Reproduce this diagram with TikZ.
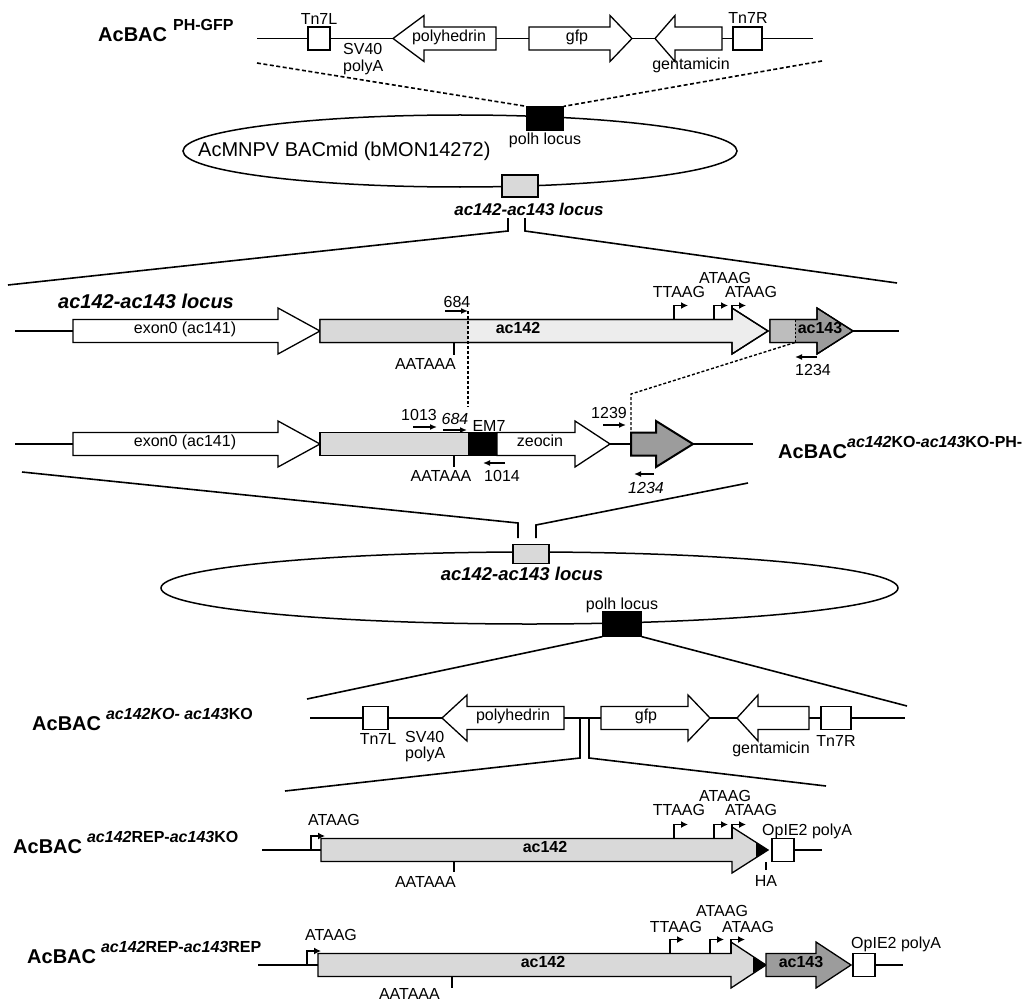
\documentclass[tikz,border=0pt]{standalone}
\usepackage{fontspec}
\setmainfont{Liberation Sans}
\usetikzlibrary{arrows.meta,shapes.geometric}

\definecolor{ac142fill}{HTML}{D9D9D9}
\definecolor{ac142pale}{HTML}{EDEDED}
\definecolor{ac143fill}{HTML}{9C9C9C}
\definecolor{ac143pale}{HTML}{BDBDBD}

\newcommand{\genearrow}[5][gene]{\draw[#1] (#2,#5-11.5) -- (#3,#5-11.5) -- (#3,#5-23) -- (#4,#5) -- (#3,#5+23) -- (#3,#5+11.5) -- (#2,#5+11.5) -- cycle;}
\newcommand{\tssmark}[2]{\draw[tss] (#1,#2) |- ++(14,-14);}
\newcommand{\acbac}[1]{{\fontsize{20}{24}\selectfont\bfseries AcBAC}\raisebox{11pt}{\fontsize{16}{19}\selectfont\bfseries #1}}

\tikzset{
  dna/.style={line width=1.4pt},
  zoomline/.style={line width=1.6pt},
  cutline/.style={line width=1.6pt,dashed,dash pattern=on 4pt off 2.5pt},
  gene/.style={draw,line width=1.3pt,fill=white,line join=miter},
  boxpart/.style={draw,line width=1.3pt,fill=white,inner sep=0pt,minimum width=#1,minimum height=23pt},
  boxpart/.default=22pt,
  txt/.style={font=\fontsize{16}{19}\selectfont,inner sep=0pt},
  gname/.style={font=\fontsize{16}{19}\selectfont\bfseries,inner sep=0pt},
  locuslbl/.style={font=\fontsize{17}{20}\selectfont\bfseries\itshape,inner sep=0pt},
  bac/.style={inner sep=0pt},
  tss/.style={line width=1.5pt,-{Latex[length=7pt,width=7pt]}},
  primer/.style={line width=2.4pt,-{Latex[length=7pt,width=6pt]}},
}

\begin{document}
\begin{tikzpicture}[x=1pt,y=-1pt]
\useasboundingbox (0,0) rectangle (1032,1003);

% AcBAC PH-GFP
\node[bac,anchor=base west] (phgfp) at (98,42) {\acbac{\hspace{6pt}PH-GFP}};
\draw[dna] (257,38.5) -- (813,38.5);
\node[boxpart] (tnlA) at (319,38.5) {};
\node[txt,anchor=base] (tnlAl) at (319,25) {Tn7L};
\node[txt,anchor=base west] (svA) at (343,55) {SV40};
\node[txt,anchor=base west] (pAA) at (343,72) {polyA};
\genearrow{496}{424}{393}{38.5}
\node[txt,anchor=mid] (polyhA) at (449,38.5) {polyhedrin};
\genearrow{529}{610}{632}{38.5}
\node[txt,anchor=mid] (gfpA) at (577,38.5) {gfp};
\genearrow{722}{675}{655}{38.5}
\node[txt,anchor=base] (gentA) at (691,70) {gentamicin};
\node[boxpart=29pt] (tnrA) at (747.5,38.5) {};
\node[txt,anchor=base] (tnrAl) at (748,24) {Tn7R};

% BACmid
\node[draw,ellipse,line width=1.5pt,minimum width=554pt,minimum height=72pt,inner sep=0pt] (bacA) at (460,151) {};
\node[anchor=base west,font=\fontsize{20}{24}\selectfont,inner sep=0pt] (bacAl) at (198,157) {AcMNPV BACmid (bMON14272)};
\node[boxpart=36pt,fill=black] (polhA) at (545,118.5) {};
\node[txt,anchor=base] (polhAl) at (545,145) {polh locus};
\node[boxpart=36pt,minimum height=22pt,fill=ac142fill] (locA) at (520,186) {};
\node[locuslbl,anchor=base] (locAl) at (529,215) {ac142-ac143 locus};
\draw[cutline] (257,63) -- (polhA.north west);
\draw[cutline] (822,61) -- (polhA.north east);

\coordinate (zlA) at (8,285);
\coordinate (zrA) at (897,283);
\draw[zoomline] (508,218) -- (508,231) -- (zlA);
\draw[zoomline] (525,218) -- (525,231) -- (zrA);

% ac142-ac143 locus
\node[locuslbl,font=\fontsize{20}{23}\selectfont\bfseries\itshape,anchor=base west] (locB) at (58,308) {ac142-ac143 locus};
\draw[dna] (15,331) -- (73,331);
\draw[dna] (853,331) -- (899,331);
\genearrow{73}{278}{320}{331}
\node[txt,anchor=mid] (exonA) at (185,331) {exon0 (ac141)};
\genearrow[gene,fill=ac142pale]{320}{732}{768}{331}
\fill[ac142fill] (320,319.5) rectangle (468,342.5);
\genearrow[gene,fill=none]{320}{732}{768}{331}
\node[gname,anchor=mid] (ac142A) at (518,331) {ac142};
\genearrow[gene,fill=ac143fill]{770}{817}{853}{331}
\fill[ac143pale] (770,319.5) rectangle (795,342.5);
\genearrow[gene,fill=none]{770}{817}{853}{331}
\draw[line width=1pt,dashed,dash pattern=on 2.5pt off 1.5pt] (795,319.5) -- (795,342.5);
\node[gname,anchor=mid] (ac143A) at (820,331) {ac143};
\tssmark{674}{319.5}
\tssmark{714}{319.5}
\tssmark{732}{319.5}
\node[txt,anchor=base] (ttA) at (679,297) {TTAAG};
\node[txt,anchor=base] (atA) at (725,283) {ATAAG};
\node[txt,anchor=base] (atB) at (751,297) {ATAAG};
\draw[primer] (445,311) -- (468,311);
\node[txt,anchor=base] (p684A) at (457,307) {684};
\draw[line width=1.4pt] (454,342.5) -- (454,355);
\node[txt,anchor=base east] (aatA) at (456,369) {AATAAA};
\draw[primer] (817,357) -- (795,357);
\node[txt,anchor=base west] (p1234A) at (795,375) {1234};

\draw[line width=1.4pt,dashed,dash pattern=on 3pt off 2pt] (468,311) -- (468,407);
\draw[line width=1.4pt,dashed,dash pattern=on 3pt off 2pt] (795,342.5) -- (631,394) -- (631,432.5);

% knockout locus
\draw[dna] (15,444) -- (73,444);
\draw[dna] (610,444) -- (631,444);
\draw[dna] (693,444) -- (753,444);
\genearrow{73}{278}{320}{444}
\node[txt,anchor=mid] (exonB) at (185,444) {exon0 (ac141)};
\draw[gene,fill=ac142fill] (320,432.5) rectangle (469,455.5);
\draw[gene,fill=black] (469,432.5) rectangle (497,455.5);
\genearrow{497}{575}{610}{444}
\node[txt,anchor=mid] (zeo) at (540,444) {zeocin};
\genearrow[gene,fill=ac143fill,line width=2pt]{631}{656}{693}{444}
\draw[primer] (413,427) -- (437,427);
\node[txt,anchor=base] (p1013) at (419,420) {1013};
\draw[primer] (443,430) -- (467,430);
\node[txt,anchor=base,font=\fontsize{16}{19}\selectfont\itshape] (p684B) at (455,424) {684};
\node[txt,anchor=base] (em7) at (489,431) {EM7};
\draw[primer] (603,425) -- (626,425);
\node[txt,anchor=base] (p1239) at (609,418) {1239};
\draw[line width=1.4pt] (454,455.5) -- (454,467);
\node[txt,anchor=base] (aatB) at (441,481) {AATAAA};
\draw[primer] (505,463) -- (483,463);
\node[txt,anchor=base west] (p1014) at (484,481) {1014};
\draw[primer] (654,474) -- (634,474);
\node[txt,anchor=base,font=\fontsize{16}{19}\selectfont\itshape] (p1234B) at (646,493) {1234};
\node[bac,anchor=base west] (kophgfp) at (778,458) {\acbac{\textit{ac142}KO-\textit{ac143}KO-PH-}};

\coordinate (zlB) at (22,472);
\coordinate (zrB) at (748,483);
\draw[zoomline] (zlB) -- (518,523) -- (518,538);
\draw[zoomline] (zrB) -- (536,525) -- (536,538);

% knockout BACmid
\node[draw,ellipse,line width=1.5pt,minimum width=737pt,minimum height=72pt,inner sep=0pt] (bacB) at (529.5,588) {};
\node[boxpart=36pt,minimum height=19pt,fill=ac142fill] (locC) at (531,554) {};
\node[locuslbl,font=\fontsize{18.5}{22}\selectfont\bfseries\itshape,anchor=base] (locCl) at (522,580) {ac142-ac143 locus};
\node[txt,anchor=base] (polhBl) at (622,609) {polh locus};
\node[boxpart=38pt,minimum height=24pt,fill=black] (polhB) at (622,624) {};

\coordinate (zlC) at (307,699);
\coordinate (zrC) at (907,706);
\draw[zoomline] (polhB.south west) -- (zlC);
\draw[zoomline] (polhB.south east) -- (zrC);

% AcBAC ac142KO-ac143KO
\node[bac,anchor=base west] (ko) at (32,730) {\acbac{\hspace{5pt}\textit{ac142KO- ac143}KO}};
\draw[dna] (310,718) -- (905,718);
\node[boxpart=25pt] (tnlB) at (375.5,718) {};
\node[txt,anchor=base] (tnlBl) at (378,744) {Tn7L};
\node[txt,anchor=base west] (svB) at (405,742) {SV40};
\node[txt,anchor=base west] (pAB) at (405,758) {polyA};
\genearrow{564}{467}{442}{718}
\node[txt,anchor=mid] (polyhB) at (513,718) {polyhedrin};
\genearrow{601}{688}{710}{718}
\node[txt,anchor=mid] (gfpB) at (646,718) {gfp};
\genearrow{809}{758}{737}{718}
\node[txt,anchor=base] (gentB) at (771,753) {gentamicin};
\node[boxpart=30pt] (tnrB) at (836,718) {};
\node[txt,anchor=base] (tnrBl) at (836,746) {Tn7R};

\coordinate (zlD) at (285,791);
\coordinate (zrD) at (826,786);
\draw[zoomline] (580,718) -- (580,758) -- (zlD);
\draw[zoomline] (589,718) -- (589,758) -- (zrD);

% AcBAC ac142REP-ac143KO
\node[bac,anchor=base west] (repko) at (13,853) {\acbac{\hspace{5pt}\textit{ac142}REP-\textit{ac143}KO}};
\draw[dna] (262,850) -- (321,850);
\draw[dna] (794,850) -- (822,850);
\tssmark{311}{850}
\node[txt,anchor=base] (atC) at (334,825) {ATAAG};
\genearrow[gene,fill=ac142fill]{321}{732}{768}{850}
\fill (756,842) -- (768,850) -- (756,858) -- cycle;
\node[gname,anchor=mid] (ac142C) at (545,850) {ac142};
\tssmark{674}{838.5}
\tssmark{714}{838.5}
\tssmark{732}{838.5}
\node[txt,anchor=base] (ttC) at (679,815) {TTAAG};
\node[txt,anchor=base] (atD) at (725,801) {ATAAG};
\node[txt,anchor=base] (atE) at (751,815) {ATAAG};
\draw[line width=1.4pt] (454,861.5) -- (454,872);
\node[txt,anchor=base east] (aatC) at (456,887) {AATAAA};
\draw[line width=1.2pt] (766,862) -- (766,870);
\node[txt,anchor=base] (ha) at (766,886) {HA};
\node[boxpart] (opA) at (783,850) {};
\node[txt,anchor=base west] (opAl) at (762,835) {OpIE2 polyA};

% AcBAC ac142REP-ac143REP
\node[bac,anchor=base west] (reprep) at (27,963) {\acbac{\hspace{5pt}\textit{ac142}REP-\textit{ac143}REP}};
\draw[dna] (258,965) -- (318,965);
\draw[dna] (875,965) -- (903,965);
\tssmark{307}{965}
\node[txt,anchor=base] (atF) at (331,940) {ATAAG};
\genearrow[gene,fill=ac142fill]{318}{731}{766}{965}
\fill (753,957) -- (766,965) -- (753,973) -- cycle;
\node[gname,anchor=mid] (ac142D) at (543,965) {ac142};
\genearrow[gene,fill=ac143fill]{766}{816}{851}{965}
\node[gname,anchor=mid] (ac143D) at (801,965) {ac143};
\tssmark{670}{953.5}
\tssmark{710}{953.5}
\tssmark{731}{953.5}
\node[txt,anchor=base] (ttD) at (676,932) {TTAAG};
\node[txt,anchor=base] (atG) at (722,916) {ATAAG};
\node[txt,anchor=base] (atH) at (748,932) {ATAAG};
\draw[line width=1.4pt] (452,976.5) -- (452,988);
\node[txt,anchor=base east] (aatD) at (440,999) {AATAAA};
\node[boxpart] (opB) at (864,965) {};
\node[txt,anchor=base west] (opBl) at (851,948) {OpIE2 polyA};
\end{tikzpicture}
\end{document}
